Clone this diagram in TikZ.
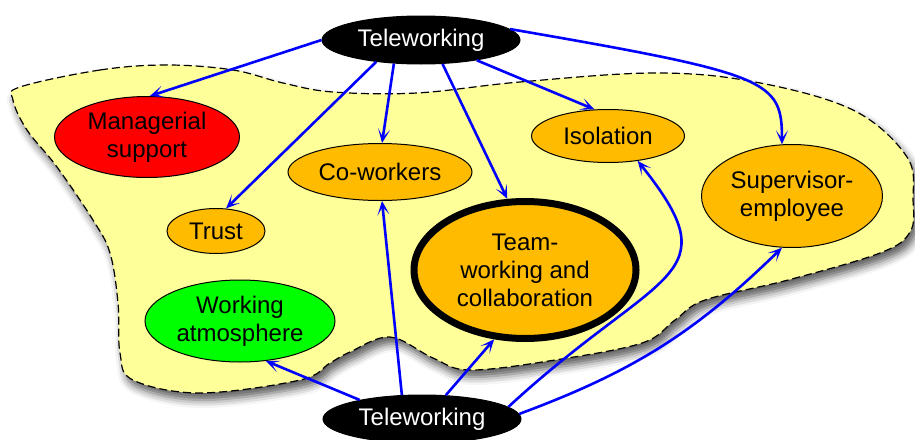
\documentclass[tikz,border=0pt]{standalone}
\usepackage{fontspec}
\setmainfont{Liberation Sans}
\usetikzlibrary{arrows.meta}
\usetikzlibrary{shapes.geometric}
\usetikzlibrary{shadows.blur}
\definecolor{blobyellow}{HTML}{FFFF99}
\definecolor{factororange}{HTML}{FFBB00}
\definecolor{edgeblue}{HTML}{0000FF}

\begin{document}
\begin{tikzpicture}[
    x=0.5pt, y=-0.5pt,
    every node/.style={font=\fontsize{12}{14}\selectfont},
    ell_node/.style={ellipse, draw=black, line width=0.5pt, inner sep=0pt, align=center},
    tele_node/.style={ell_node, fill=black, text=white, minimum width=99pt, minimum height=24pt},
    factor_node/.style={ell_node, fill=factororange},
    edge_arrow/.style={-{Stealth[length=7pt, width=6pt, inset=4pt]}, line width=1.3pt, draw=edgeblue}
]
    \useasboundingbox (0,0) rectangle (915,439);

    % Area
    \path[fill=blobyellow, draw=black, dash pattern=on 4pt off 2pt, line width=0.6pt,
          blur shadow={shadow xshift=2pt, shadow yshift=-3.5pt, shadow blur radius=4pt, shadow opacity=65}]
        plot[smooth cycle, tension=0.6] coordinates {
        (20,87) (100,70) (167,65) (233,70) (283,83) (333,92) (417,93) (520,82)
        (655,73) (755,82) (853,110) (907,157) (913,200) (910,232) (880,253)
        (788,280) (705,300) (675,320) (642,343) (555,360) (470,370) (433,358)
        (390,337) (350,352) (330,363) (300,380) (200,393) (133,380) (120,353)
        (118,303) (110,253) (93,220) (57,167) (27,130) (13,100)};

    % Teleworking
    \node (top) [tele_node] at (421,40) {Teleworking};
    \node (bottom) [tele_node] at (422,419) {Teleworking};

    % Factors
    \node (mgr) [ell_node, fill=red, minimum width=92.5pt, minimum height=40.5pt] at (147,137) {Managerial\\support};
    \node (cowork) [factor_node, minimum width=92pt, minimum height=28.5pt] at (380,172) {Co-workers};
    \node (trust) [factor_node, minimum width=49pt, minimum height=22.5pt] at (216,231) {Trust};
    \node (isol) [factor_node, minimum width=76.5pt, minimum height=26.5pt] at (608,136) {Isolation};
    \node (superv) [factor_node, minimum width=90.5pt, minimum height=51.5pt] at (792,196) {Supervisor-\\employee};
    \node (team) [factor_node, line width=3.5pt, minimum width=111pt, minimum height=68.5pt] at (525,270) {Team-\\working and\\collaboration};
    \node (atmos) [ell_node, fill=green, minimum width=95pt, minimum height=41pt] at (240,321) {Working\\atmosphere};

    % Edges
    \draw[edge_arrow] (top.180) -- (mgr.86);
    \draw[edge_arrow] (top.206) -- (trust.66);
    \draw[edge_arrow] (top.221) -- (cowork.86);
    \draw[edge_arrow] (top.312) -- (team.104);
    \draw[edge_arrow] (top.340) -- (isol.117);
    \draw[edge_arrow] (top.7) .. controls (770,74) and (782,80) .. (superv.101);
    \draw[edge_arrow] (bottom.163) -- (atmos.303);
    \draw[edge_arrow] (bottom.130) -- (cowork.274);
    \draw[edge_arrow] (bottom.45) -- (team.246);
    \draw[edge_arrow] (bottom.8) .. controls (660,267) and (733,280) .. (isol.320);
    \draw[edge_arrow] (bottom.3) to[bend right=12] (superv.259);

\end{tikzpicture}
\end{document}
